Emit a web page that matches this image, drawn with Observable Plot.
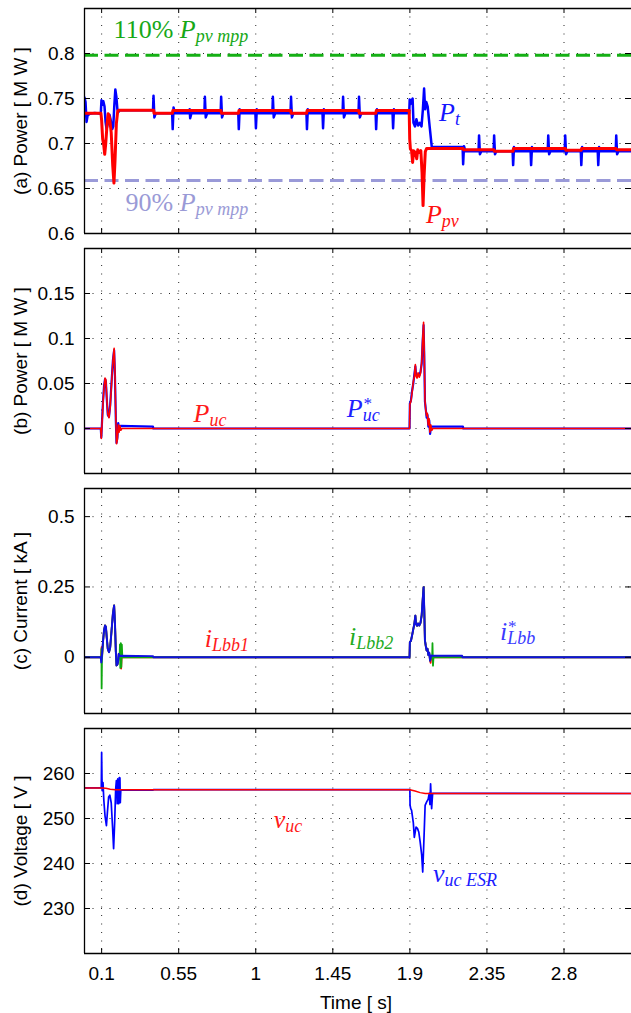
<!DOCTYPE html>
<html>
<head>
<meta charset="utf-8">
<script src="https://cdn.jsdelivr.net/npm/d3@7"></script>
<script src="https://cdn.jsdelivr.net/npm/@observablehq/plot@0.6"></script>
<style>
  html, body { margin: 0; padding: 0; background: #fff; }
  #chart { position: relative; width: 631px; height: 1013px; overflow: hidden; }
  #chart svg { position: absolute; left: 0; overflow: visible; }
</style>
</head>
<body>
<div id="chart"></div>
<script>
// ---------------- data ----------------
const timeTicks = [0.1, 0.55, 1, 1.45, 1.9, 2.35, 2.8];
const timeDomain = [0, 3.2];

const ticksA = [0.6, 0.65, 0.7, 0.75, 0.8];
const domainA = [0.6, 0.85];
const ticksB = [0, 0.05, 0.1, 0.15];
const domainB = [-0.05, 0.2];
const ticksC = [0, 0.25, 0.5];
const domainC = [-0.2, 0.6];
const ticksD = [230, 240, 250, 260];
const domainD = [220, 270];

const yLabels = ["(a) Power [ M W ]", "(b) Power [ M W ]", "(c) Current [ kA ]", "(d) Voltage [ V ]"];
const xLabel = "Time [ s]";

// 110% and 90% of P_pv,mpp
const pvLimits = [0.798, 0.659];

// (a) P_t  (blue)
const Pt = [
 [0.000,0.751],[0.006,0.746],[0.012,0.724],[0.018,0.731],[0.030,0.733],[0.060,0.734],[0.095,0.733],
 [0.099,0.748],[0.104,0.743],[0.110,0.747],[0.117,0.741],[0.123,0.724],[0.129,0.716],[0.136,0.722],[0.146,0.732],[0.153,0.726],[0.162,0.716],[0.168,0.719],[0.174,0.742],[0.180,0.760],[0.186,0.752],[0.192,0.738],[0.198,0.735],[0.205,0.737],
 [0.400,0.737],[0.403,0.753],[0.408,0.729],[0.416,0.7335],
 [0.512,0.7335],[0.515,0.716],[0.520,0.740],[0.528,0.7335],
 [0.611,0.7335],[0.614,0.738],[0.617,0.728],[0.624,0.7335],
 [0.700,0.7335],[0.703,0.752],[0.708,0.729],[0.716,0.7335],
 [0.795,0.7335],[0.798,0.752],[0.803,0.729],[0.811,0.7335],
 [0.898,0.7335],[0.901,0.716],[0.906,0.738],[0.914,0.7335],
 [0.998,0.7335],[1.001,0.717],[1.006,0.738],[1.014,0.7335],
 [1.097,0.7335],[1.100,0.752],[1.105,0.729],[1.113,0.7335],
 [1.203,0.7335],[1.206,0.752],[1.211,0.729],[1.219,0.7335],
 [1.296,0.7335],[1.299,0.716],[1.304,0.738],[1.312,0.7335],
 [1.390,0.7335],[1.393,0.717],[1.398,0.738],[1.406,0.7335],
 [1.507,0.7335],[1.510,0.752],[1.515,0.729],[1.523,0.7335],
 [1.600,0.7335],[1.603,0.752],[1.608,0.729],[1.616,0.7335],
 [1.700,0.7335],[1.703,0.716],[1.708,0.738],[1.716,0.7335],
 [1.799,0.7335],[1.802,0.717],[1.807,0.738],[1.815,0.7335],
 [1.896,0.7335],[1.899,0.749],[1.904,0.744],[1.910,0.748],[1.916,0.750],[1.921,0.723],[1.930,0.719],[1.938,0.727],[1.948,0.720],[1.958,0.723],[1.968,0.719],[1.976,0.738],[1.983,0.761],[1.989,0.738],[1.996,0.746],[2.004,0.741],[2.016,0.718],[2.028,0.696],
 [2.208,0.696],[2.211,0.677],[2.216,0.697],[2.224,0.6915],
 [2.301,0.6915],[2.304,0.709],[2.309,0.688],[2.317,0.6915],
 [2.389,0.6915],[2.392,0.709],[2.397,0.688],[2.405,0.6915],
 [2.500,0.6915],[2.503,0.676],[2.508,0.696],[2.516,0.6915],
 [2.605,0.6915],[2.608,0.676],[2.613,0.696],[2.621,0.6915],
 [2.705,0.6915],[2.708,0.709],[2.713,0.688],[2.721,0.6915],
 [2.804,0.6915],[2.807,0.709],[2.812,0.688],[2.820,0.6915],
 [2.898,0.6915],[2.901,0.676],[2.906,0.696],[2.914,0.6915],
 [2.997,0.6915],[3.000,0.676],[3.005,0.696],[3.013,0.6915],
 [3.102,0.6915],[3.105,0.709],[3.110,0.688],[3.118,0.6915],
 [3.200,0.6915]
];

// (a) P_pv (red)
const Ppv = [
 [0.000,0.7335],[0.096,0.7335],[0.100,0.726],[0.106,0.705],[0.112,0.699],[0.118,0.688],[0.124,0.700],[0.132,0.722],[0.138,0.733],[0.146,0.729],[0.156,0.712],[0.165,0.675],[0.172,0.656],[0.178,0.680],[0.186,0.722],[0.194,0.736],[0.200,0.737],
 [0.404,0.737],[0.406,0.7335],[0.513,0.7335],[0.516,0.7367],[0.797,0.7367],[0.800,0.7335],[0.899,0.7335],[0.902,0.7367],[1.204,0.7367],[1.207,0.7335],[1.297,0.7335],[1.300,0.7367],[1.601,0.7367],[1.604,0.7335],[1.701,0.7335],[1.704,0.7367],[1.896,0.7367],
 [1.899,0.705],[1.903,0.694],[1.910,0.692],[1.916,0.679],[1.922,0.692],[1.932,0.690],[1.940,0.683],[1.946,0.693],[1.956,0.690],[1.964,0.692],[1.971,0.668],[1.977,0.631],[1.983,0.664],[1.990,0.691],[1.998,0.6945],
 [2.210,0.6945],[2.213,0.693],[2.391,0.693],[2.394,0.6915],[2.502,0.6915],[2.505,0.6945],[2.808,0.6945],[2.811,0.6925],[2.900,0.6925],[2.903,0.6945],[3.104,0.6945],[3.107,0.693],[3.200,0.693]
];

// (b) P_uc (red) and P*_uc (blue)
const Puc = [
 [0,0],[0.095,0],[0.098,-0.011],[0.102,0.004],[0.108,0.028],[0.114,0.045],[0.120,0.056],[0.125,0.054],[0.130,0.035],[0.136,0.016],[0.143,0.012],[0.150,0.024],[0.158,0.050],[0.166,0.075],[0.173,0.089],[0.178,0.062],[0.183,0.010],[0.187,-0.017],[0.192,-0.012],[0.197,0.004],[0.202,-0.004],[0.207,0.003],[0.212,-0.002],[0.218,0],
 [1.898,0],[1.900,0.027],[1.906,0.030],[1.913,0.040],[1.920,0.052],[1.926,0.058],[1.932,0.071],[1.936,0.058],[1.942,0.056],[1.948,0.062],[1.955,0.057],[1.962,0.061],[1.969,0.074],[1.975,0.100],[1.980,0.118],[1.984,0.085],[1.988,0.032],[1.993,0.020],[1.998,0.014],[2.002,0.017],[2.007,0.004],[2.012,0.011],[2.017,-0.004],[2.022,0.004],[2.028,-0.002],[2.034,0],[3.200,0]
];
const PucRef = [
 [0,0],[0.095,0],[0.098,-0.010],[0.102,0.006],[0.108,0.030],[0.114,0.047],[0.120,0.055],[0.125,0.052],[0.130,0.033],[0.136,0.015],[0.143,0.013],[0.150,0.026],[0.158,0.052],[0.166,0.076],[0.173,0.087],[0.178,0.058],[0.183,0.008],[0.187,-0.016],[0.192,-0.010],[0.197,0.006],[0.203,0.000],[0.210,0.003],[0.400,0.002],[0.402,0],
 [1.898,0],[1.900,0.028],[1.906,0.031],[1.913,0.042],[1.920,0.050],[1.926,0.060],[1.932,0.069],[1.936,0.060],[1.942,0.058],[1.948,0.060],[1.955,0.059],[1.962,0.063],[1.969,0.072],[1.975,0.098],[1.980,0.115],[1.984,0.080],[1.988,0.030],[1.993,0.021],[1.998,0.012],[2.003,0.015],[2.008,0.002],[2.013,0.009],[2.018,-0.006],[2.024,0.002],[2.030,0.002],[2.210,0.002],[2.212,0],[3.200,0]
];

// (c) i_Lbb1 (red), i_Lbb2 (green), i*_Lbb (blue)
const iLbb1 = [
 [0,0],[0.097,0],[0.100,0.036],[0.103,0.006],[0.108,0.055],[0.114,0.095],[0.120,0.113],[0.125,0.108],[0.130,0.070],[0.136,0.030],[0.143,0.018],[0.150,0.035],[0.158,0.095],[0.166,0.155],[0.173,0.184],[0.178,0.120],[0.183,0.020],[0.187,-0.029],[0.192,-0.026],[0.196,-0.016],[0.200,0.012],[0.205,0],[0.212,0],[0.214,-0.040],[0.217,0],
 [1.898,0],[1.900,0.054],[1.906,0.058],[1.913,0.078],[1.920,0.100],[1.926,0.118],[1.932,0.148],[1.936,0.118],[1.942,0.112],[1.948,0.120],[1.955,0.113],[1.962,0.122],[1.969,0.150],[1.975,0.205],[1.980,0.249],[1.984,0.170],[1.988,0.060],[1.993,0.040],[1.998,0.024],[2.003,0.030],[2.008,0.008],[2.013,0.016],[2.018,-0.012],[2.021,-0.020],[2.025,0],[3.200,0]
];
const iLbb2 = [
 [0,0],[0.098,0],[0.099,0.030],[0.100,-0.111],[0.102,-0.010],[0.108,0.055],[0.114,0.095],[0.120,0.113],[0.125,0.108],[0.130,0.070],[0.136,0.030],[0.143,0.018],[0.150,0.035],[0.158,0.095],[0.166,0.155],[0.173,0.184],[0.178,0.120],[0.183,0.020],[0.187,-0.029],[0.192,-0.026],[0.196,-0.016],[0.200,0.010],[0.205,0],[0.207,0.046],[0.209,-0.038],[0.212,0.050],[0.215,-0.035],[0.218,0.045],[0.221,0],
 [1.898,0],[1.900,0.054],[1.906,0.058],[1.913,0.078],[1.920,0.100],[1.926,0.118],[1.932,0.148],[1.936,0.118],[1.942,0.112],[1.948,0.120],[1.955,0.113],[1.962,0.122],[1.969,0.150],[1.975,0.205],[1.980,0.249],[1.984,0.170],[1.988,0.060],[1.993,0.040],[1.998,0.024],[2.003,0.030],[2.008,0.008],[2.013,0.016],[2.018,-0.012],[2.024,0],[2.030,0],[2.032,0.050],[2.035,-0.030],[2.038,0],[3.200,0]
];
const iLbbRef = [
 [0,0],[0.095,0],[0.098,-0.018],[0.102,0.008],[0.108,0.055],[0.114,0.095],[0.120,0.113],[0.125,0.108],[0.130,0.070],[0.136,0.030],[0.143,0.018],[0.150,0.035],[0.158,0.095],[0.166,0.155],[0.173,0.184],[0.178,0.120],[0.183,0.020],[0.187,-0.029],[0.192,-0.026],[0.196,-0.016],[0.200,0.012],[0.204,0.004],[0.210,0.005],[0.400,0.004],[0.402,0],
 [1.898,0],[1.900,0.054],[1.906,0.058],[1.913,0.078],[1.920,0.100],[1.926,0.118],[1.932,0.148],[1.936,0.118],[1.942,0.112],[1.948,0.120],[1.955,0.113],[1.962,0.122],[1.969,0.150],[1.975,0.205],[1.980,0.249],[1.984,0.170],[1.988,0.060],[1.993,0.040],[1.998,0.024],[2.003,0.030],[2.008,0.008],[2.013,0.016],[2.018,-0.012],[2.024,0.006],[2.030,0.005],[2.205,0.005],[2.207,0],[3.200,0]
];

// (d) v_uc (red) and v_uc,ESR (blue)
const vuc = [[0,256.8],[0.100,256.8],[0.125,256.7],[0.150,256.5],[0.180,256.4],[0.200,256.4],[1.900,256.4],[1.930,256.1],[1.960,255.75],[1.990,255.55],[3.200,255.55]];
const vucEsr = [
 [0,256.8],[0.098,256.8],[0.100,264.7],[0.103,256.2],[0.108,258.0],[0.113,254.0],[0.120,250.5],[0.128,248.4],[0.134,251.5],[0.141,254.8],[0.148,255.2],[0.156,253.5],[0.164,248.0],[0.170,243.3],[0.176,249.0],[0.182,256.5],[0.186,258.4],[0.189,258.2],[0.191,253.3],[0.194,258.8],[0.198,258.6],[0.200,253.3],[0.203,259.1],[0.207,259.0],[0.209,253.5],[0.212,256.3],[0.400,256.3],[0.402,256.4],
 [1.900,256.4],[1.901,253.0],[1.905,252.2],[1.910,251.8],[1.920,249.1],[1.926,245.8],[1.936,248.1],[1.944,247.8],[1.952,247.0],[1.960,244.8],[1.969,241.9],[1.975,238.1],[1.983,246.3],[1.989,252.9],[1.998,253.7],[2.007,254.3],[2.013,255.6],[2.017,253.1],[2.021,257.7],[2.027,252.2],[2.033,255.6],[2.210,255.6],[3.200,255.55]
];

// annotations: panel index, anchor (time, value), text pieces
const annotations = [
 {panel:0, t:0.170, v:0.8167, pre:"110% ", main:"P", sub:"pv mpp", color:"#17a817"},
 {panel:0, t:0.240, v:0.6248, pre:"90% ", main:"P", sub:"pv mpp", color:"#9a9ad6"},
 {panel:0, t:2.070, v:0.7248, main:"P", sub:"t", color:"#1515ff"},
 {panel:0, t:1.994, v:0.6114, main:"P", sub:"pv", color:"#ff1010"},
 {panel:1, t:0.637, v:0.0070, main:"P", sub:"uc", color:"#ff1a1a"},
 {panel:1, t:1.532, v:0.0133, main:"P", sup:"*", sub:"uc", color:"#2020ff"},
 {panel:2, t:0.702, v:0.038, main:"i", sub:"Lbb1", color:"#ff1a1a"},
 {panel:2, t:1.544, v:0.042, main:"i", sub:"Lbb2", color:"#22aa22"},
 {panel:2, t:2.427, v:0.0596, main:"i", sup:"*", sub:"Lbb", color:"#3a3aff"},
 {panel:3, t:1.105, v:247.8, main:"v", sub:"uc", color:"#ff1a1a"},
 {panel:3, t:2.035, v:236.0, main:"v", sub:"uc ESR", color:"#1a1aff"}
];

// ---------------- drawing ----------------
const W = 631, ML = 84, XR = 632;
const sans = "'Liberation Sans', Arial, Helvetica, sans-serif";
const serif = "'Liberation Serif', 'Times New Roman', serif";
const BLUE = "#0000ff", RED = "#ff0000", GREEN = "#10a810";

const panels = [
  {top:0, height:240, mt:8, mb:7, domain:domainA, ticks:ticksA, label:yLabels[0],
   refs:[{v:pvLimits[0], color:"#14b014"}, {v:pvLimits[1], color:"#9a9ad8"}],
   lines:[{data:Pt, color:BLUE, w:2.5}, {data:Ppv, color:RED, w:3}]},
  {top:240, height:240, mt:8, mb:7, domain:domainB, ticks:ticksB, label:yLabels[1], refs:[],
   lines:[{data:PucRef, color:BLUE, w:2.2}, {data:Puc, color:RED, w:1.6}]},
  {top:480, height:240, mt:8, mb:7, domain:domainC, ticks:ticksC, label:yLabels[2], refs:[],
   lines:[{data:iLbb1, color:RED, w:1.8}, {data:iLbb2, color:GREEN, w:1.8}, {data:iLbbRef, color:"#1010e0", w:2}]},
  {top:720, height:293, mt:8, mb:60, domain:domainD, ticks:ticksD, label:yLabels[3], refs:[], bottom:true,
   lines:[{data:vucEsr, color:BLUE, w:1.7}, {data:vuc, color:RED, w:1.5}]}
];

const chart = document.getElementById("chart");
const dotted = {stroke:"#111", strokeOpacity:0.9, strokeWidth:1, strokeDasharray:"1,7.5"};
const fullText = a => (a.pre || "") + a.main + (a.sup || "") + a.sub;

panels.forEach((p, pi) => {
  const plotH = p.height - p.mt - p.mb;
  const plotW = W - ML;
  const border = {stroke:"#000", strokeWidth:1.3};
  const myAnn = annotations.filter(a => a.panel === pi);
  const marks = [
    Plot.gridX(timeTicks, dotted),
    Plot.gridY(p.ticks, dotted),
    ...p.refs.map(r => Plot.ruleY([r.v], {stroke:r.color, strokeWidth:3, strokeDasharray:"14,6.5"})),
    ...p.lines.map(s => Plot.line(s.data, {x:d => d[0], y:d => d[1], stroke:s.color, strokeWidth:s.w, strokeLinejoin:"round", clip:true})),
    Plot.ruleX([timeDomain[0]], border),
    Plot.ruleY([p.domain[0]], border),
    Plot.ruleY([p.domain[1]], border),
    Plot.tickY(p.ticks, {y:d => d, insetRight:plotW - 6, stroke:"#000"}),
    Plot.tickY(p.ticks, {y:d => d, insetLeft:plotW - 6, stroke:"#000"}),
    Plot.tickX(timeTicks, {x:d => d, insetBottom:plotH - 5, stroke:"#000"}),
    Plot.tickX(timeTicks, {x:d => d, insetTop:plotH - 5, stroke:"#000"}),
    Plot.axisY(p.ticks, {tickSize:0, tickPadding:10, fontSize:19, tickFormat:d => String(d), label:null}),
    Plot.text([p.label], {text:d => d, frameAnchor:"left", rotate:-90, dx:-63.5, fontSize:19, textAnchor:"middle", lineAnchor:"middle", fill:"#000"}),
    ...myAnn.map(a => Plot.text([a], {x:"t", y:"v", text:fullText,
      textAnchor:"start", lineAnchor:"bottom", fontSize:26, fontFamily:serif, fontStyle:"italic",
      fill:a.color}))
  ];
  if (p.bottom) {
    marks.push(Plot.axisX(timeTicks, {tickSize:0, tickPadding:13, fontSize:19, tickFormat:d => String(d), label:null}));
    marks.push(Plot.text([xLabel], {text:d => d, frameAnchor:"bottom", dy:55, dx:-2, lineAnchor:"bottom", fontSize:19, fill:"#000"}));
  }
  const svg = Plot.plot({
    width:W, height:p.height,
    marginTop:p.mt, marginBottom:p.mb, marginLeft:ML, marginRight:0,
    x:{domain:timeDomain, range:[ML, XR], axis:p.bottom ? undefined : null},
    y:{domain:p.domain},
    style:{fontFamily:sans, fontSize:"19px", background:"transparent", color:"#000", overflow:"visible"},
    marks
  });
  svg.style.top = p.top + "px";
  chart.appendChild(svg);

  // rich text (roman prefix, italic symbol, super/subscripts)
  const texts = Array.from(svg.querySelectorAll("text"));
  myAnn.forEach(a => {
    const el = texts.find(t => t.textContent === fullText(a));
    if (!el) return;
    const ns = "http://www.w3.org/2000/svg";
    el.textContent = "";
    const add = (txt, attrs) => {
      const t = document.createElementNS(ns, "tspan");
      t.textContent = txt;
      for (const k in attrs) t.setAttribute(k, attrs[k]);
      el.appendChild(t);
      return t;
    };
    if (a.pre) add(a.pre, {"font-style":"normal"});
    add(a.main, {});
    let supW = 0;
    if (a.sup) { const s = add(a.sup, {"font-size":17, dy:-8}); supW = s.getComputedTextLength(); }
    add(a.sub, {"font-size":18, dy:a.sup ? 12 : 4, dx:a.sup ? -supW : 0});
  });
});
</script>
</body>
</html>
